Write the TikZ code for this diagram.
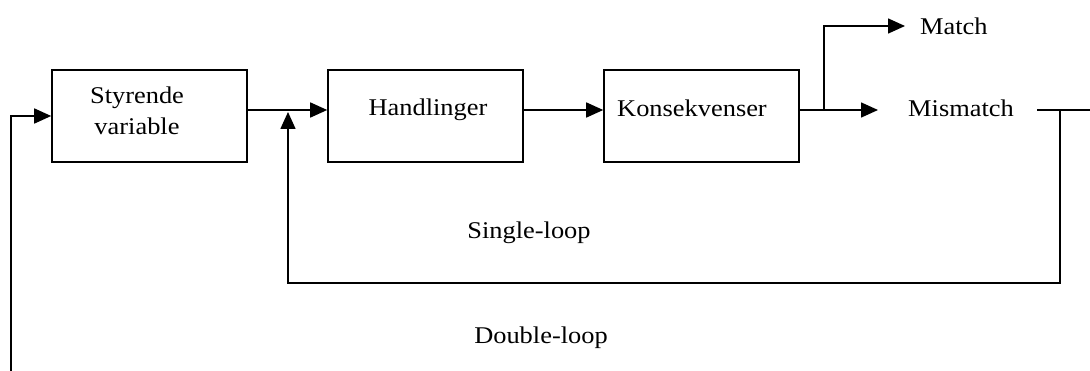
\documentclass[tikz,border=0pt]{standalone}
\usepackage{fontspec}
\setmainfont{Liberation Serif}
\newfontfamily\diagfont[FakeStretch=1.1]{Liberation Serif}
\usetikzlibrary{arrows.meta}
\begin{document}
\begin{tikzpicture}[x=1pt,y=-1pt,
  line/.style={line width=1.6pt, draw=black},
  arr/.style={line, -{Triangle[length=17pt,width=15pt]}},
  box/.style={draw=black, line width=1.6pt, minimum width=195pt, minimum height=92pt, inner sep=0pt},
  lbl/.style={font=\diagfont\fontsize{24}{31}\selectfont, inner sep=0pt, align=center}]
\useasboundingbox (0,0) rectangle (1090,371);
\fill[white] (0,0) rectangle (1090,371);
% boxes
\node[box] (sv) at (149.5,116) {};
\node[box] (hd) at (425.5,116) {};
\node[box] (ks) at (701.5,116) {};
% texts
\node[lbl] (svt) at (137,111) {Styrende\\variable};
\node[lbl] (hdt) at (428,110) {Handlinger};
\node[lbl] (kst) at (692,108) {Konsekvenser};
\node[lbl,anchor=west] (mm) at (908,108) {Mismatch};
\node[lbl,anchor=west] (mt) at (920,26) {Match};
\node[lbl] (sl) at (529,233) {Single-loop};
\node[lbl] (dbl) at (541,338) {Double-loop};
% coordinates
\coordinate (j) at (288,110);
\coordinate (mmin) at (878,110);
\coordinate (br) at (824,110);
\coordinate (mtin) at (905,26);
\coordinate (mmout) at (1037,110);
\coordinate (rc) at (1060,110);
\coordinate (redge) at (1090,110);
\coordinate (sb) at (1060,283);
\coordinate (dl) at (11,371);
% connectors
\draw[line] (sv.east |- j) -- (j);
\draw[arr] (j) -- (hd.west |- j);
\draw[arr] (hd.east |- j) -- (ks.west |- j);
\draw[arr] (ks.east |- j) -- (mmin);
\draw[arr] (br) |- (mtin);
\draw[line] (mmout) -- (redge);
\draw[arr] (rc) -- (sb) -| ([yshift=-2pt]j);
\draw[arr] (dl) |- (sv.west);
\end{tikzpicture}
\end{document}
